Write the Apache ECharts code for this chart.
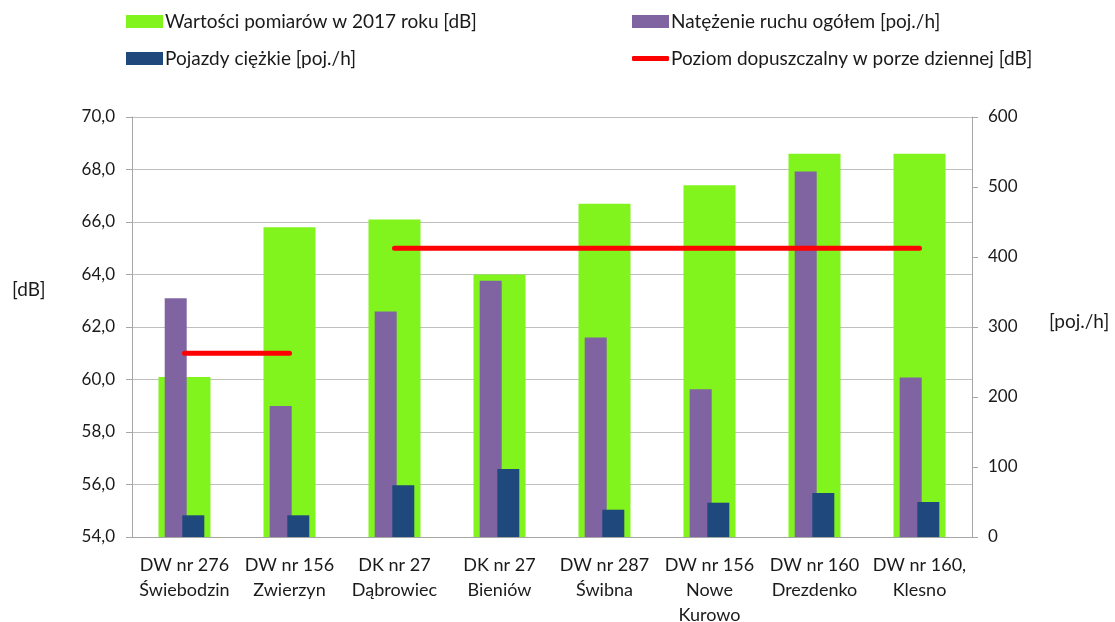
<!DOCTYPE html>
<html>
<head>
<meta charset="utf-8">
<script src="https://cdn.jsdelivr.net/npm/echarts@6/dist/echarts.min.js"></script>
<style>
  html, body { margin: 0; padding: 0; background: #fff; }
  #main { width: 1115px; height: 622px; }
</style>
</head>
<body>
<div id="main"></div>
<script>
// kategorie (punkty pomiarowe)
var categories = [
    'DW nr 276\nŚwiebodzin',
    'DW nr 156\nZwierzyn',
    'DK nr 27\nDąbrowiec',
    'DK nr 27\nBieniów',
    'DW nr 287\nŚwibna',
    'DW nr 156\nNowe\nKurowo',
    'DW nr 160\nDrezdenko',
    'DW nr 160,\nKlesno'
];
// wartości pomiarów [dB]
var measured = [60.1, 65.8, 66.1, 64.0, 66.7, 67.4, 68.6, 68.6];
// natężenie ruchu ogółem [poj./h]
var trafficTotal = [341, 187, 322, 366, 285, 211, 522, 228];
// pojazdy ciężkie [poj./h]
var heavyVehicles = [31, 31, 74, 97, 39, 49, 63, 50];
// poziom dopuszczalny - dwa odcinki
var limitPartA = [61, 61, null, null, null, null, null, null];
var limitPartB = [null, null, 65, 65, 65, 65, 65, 65];

var names = {
    measured: 'Wartości pomiarów w 2017 roku [dB]',
    total: 'Natężenie ruchu ogółem [poj./h]',
    heavy: 'Pojazdy ciężkie [poj./h]',
    limit: 'Poziom dopuszczalny w porze dziennej [dB]'
};

var FONT = 'Lato';
var TXT = '#1a1a1a';
var AXIS = '#a6a6a6';

var chart = echarts.init(document.getElementById('main'));

function legendAt(name, left, top, icon, h) {
    return {
        data: [{ name: name, icon: icon }],
        left: left,
        top: top,
        itemWidth: 37,
        itemHeight: h,
        padding: 0,
        selectedMode: false,
        textStyle: { fontFamily: FONT, fontSize: 19, color: TXT, padding: [0, 0, 0, -3] }
    };
}

var option = {
    backgroundColor: '#fff',
    animation: false,
    legend: [
        legendAt(names.measured, 126, 12, 'rect', 13),
        legendAt(names.total, 632, 12, 'rect', 13),
        legendAt(names.heavy, 126, 49, 'rect', 13),
        legendAt(names.limit, 632, 49, 'roundRect', 5)
    ],
    graphic: [
        { type: 'text', left: 12, top: 280, style: { text: '[dB]', font: '19px Lato', fill: TXT } },
        { type: 'text', left: 1049, top: 312, style: { text: '[poj./h]', font: '19px Lato', fill: TXT } }
    ],
    grid: { left: 132, right: 143, top: 117, bottom: 85, outerBoundsMode: 'none', containLabel: false },
    xAxis: [{
        type: 'category',
        data: categories,
        axisLine: { lineStyle: { color: AXIS } },
        axisTick: { length: 6, lineStyle: { color: AXIS } },
        axisLabel: {
            interval: 0, margin: 16, fontFamily: FONT, fontSize: 18,
            color: TXT, lineHeight: 25
        }
    }, {
        type: 'category',
        data: categories,
        show: false
    }],
    yAxis: [{
        type: 'value',
        min: 54, max: 70, interval: 2,
        axisLine: { show: true, lineStyle: { color: AXIS } },
        axisTick: { show: true, length: 6, lineStyle: { color: AXIS } },
        splitLine: { lineStyle: { color: '#bfbfbf' } },
        axisLabel: {
            margin: 17, fontFamily: FONT, fontSize: 17, color: TXT,
            formatter: function (v) { return v.toFixed(1).replace('.', ','); }
        }
    }, {
        type: 'value',
        min: 0, max: 600, interval: 100,
        position: 'right',
        axisLine: { show: true, lineStyle: { color: AXIS } },
        axisTick: { show: true, length: 6, lineStyle: { color: AXIS } },
        splitLine: { show: false },
        axisLabel: { margin: 16, fontFamily: FONT, fontSize: 17, color: TXT }
    }],
    series: [{
        name: names.measured,
        type: 'bar',
        xAxisIndex: 0, yAxisIndex: 0,
        barWidth: 52,
        itemStyle: { color: '#80f41c' },
        data: measured,
        z: 1
    }, {
        name: names.total,
        type: 'bar',
        xAxisIndex: 1, yAxisIndex: 1,
        barWidth: 22,
        barGap: '-20%',
        itemStyle: { color: '#8064a2' },
        data: trafficTotal,
        z: 2
    }, {
        name: names.heavy,
        type: 'bar',
        xAxisIndex: 1, yAxisIndex: 1,
        barWidth: 22,
        barGap: '-20%',
        itemStyle: { color: '#1f497d' },
        data: heavyVehicles,
        z: 3
    }, {
        name: names.limit,
        type: 'line',
        xAxisIndex: 0, yAxisIndex: 0,
        symbol: 'none',
        itemStyle: { color: '#ff0000' },
        lineStyle: { color: '#ff0000', width: 5, cap: 'round' },
        data: limitPartA,
        z: 5
    }, {
        name: names.limit,
        type: 'line',
        xAxisIndex: 0, yAxisIndex: 0,
        symbol: 'none',
        itemStyle: { color: '#ff0000' },
        lineStyle: { color: '#ff0000', width: 5, cap: 'round' },
        data: limitPartB,
        z: 5
    }]
};

chart.setOption(option);
</script>
</body>
</html>
